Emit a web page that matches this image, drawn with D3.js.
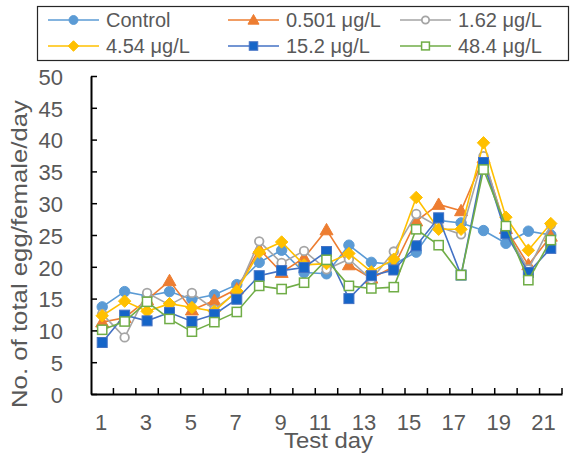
<!DOCTYPE html>
<html><head><meta charset="utf-8">
<script src="https://cdn.jsdelivr.net/npm/d3@7/dist/d3.min.js"></script>
<style>body{margin:0;background:#fff}svg{display:block}text{font-family:"Liberation Sans",Arial,sans-serif}</style>
</head><body><svg id="c" width="571" height="459"></svg>
<script>
const days = d3.range(1, 22);
const xTickLabels = [1,3,5,7,9,11,13,15,17,19,21];
const yTicks = [0,5,10,15,20,25,30,35,40,45,50];
const seriesNames = ["Control","0.501 μg/L","1.62 μg/L","4.54 μg/L","15.2 μg/L","48.4 μg/L"];
const control = [13.7,16.1,15.4,16.1,14.9,15.6,17.2,20.7,22.6,19.1,18.9,23.4,20.7,20.4,22.3,27.3,26.9,25.7,23.7,25.6,25.0];
const c0501 = [11.3,12.0,14.8,17.8,13.2,14.7,16.5,22.8,19.1,21.4,25.8,20.3,18.2,20.0,27.2,29.8,28.8,37.1,26.0,20.3,24.8];
const c162 = [12.6,8.9,15.9,14.0,15.9,13.3,16.0,24.0,20.6,22.5,19.6,21.2,18.0,22.4,28.3,26.3,25.1,37.4,25.6,19.6,26.6];
const c454 = [12.3,14.6,13.0,14.2,13.6,13.0,16.2,22.3,23.9,20.3,20.5,22.1,19.2,21.2,30.9,25.9,25.9,39.5,27.8,22.6,26.8];
const c152 = [8.1,12.4,11.5,12.8,11.4,12.5,14.9,18.6,19.4,19.9,22.4,15.0,18.6,19.5,23.3,27.7,18.7,36.4,25.2,19.1,22.9];
const c484 = [10.1,11.4,14.5,11.8,9.8,11.3,12.9,17.0,16.5,17.5,21.1,17.0,16.6,16.8,25.9,23.4,18.7,35.3,26.4,17.9,24.2];
const seriesValues = [control, c0501, c162, c454, c152, c484];

const styles = [
  {line:"#5B9BD5", shape:"circle", fill:"#5B9BD5", stroke:"#5B9BD5", size:5.2},
  {line:"#ED7D31", shape:"triangle", fill:"#ED7D31", stroke:"#ED7D31", size:6.5},
  {line:"#A5A5A5", shape:"circle", fill:"#fff", stroke:"#A5A5A5", size:4.3, sw:1.8},
  {line:"#FFC000", shape:"diamond", fill:"#FFC000", stroke:"#FFC000", size:6.2},
  {line:"#4472C4", shape:"square", fill:"#1565C8", stroke:"#4472C4", size:5},
  {line:"#70AD47", shape:"square", fill:"#fff", stroke:"#70AD47", size:4.6, sw:1.5}
];

const svg = d3.select("#c");
const L = 91, R = 562, T = 76, B = 394;
const x = d3.scaleBand().domain(days).range([L, R]).padding(0);
const xc = d => x(d) + x.bandwidth()/2;
const y = d3.scaleLinear().domain([0, 50]).range([B, T]);

function drawMarker(g, s, cx, cy, scale) {
  const k = scale || 1, r = s.size * k;
  let el;
  if (s.shape === "circle") el = g.append("circle").attr("cx", cx).attr("cy", cy).attr("r", r);
  else if (s.shape === "square") el = g.append("rect").attr("x", cx-r).attr("y", cy-r).attr("width", 2*r).attr("height", 2*r);
  else if (s.shape === "triangle") el = g.append("path").attr("d", `M${cx},${cy-r}L${cx+r},${cy+r*0.75}L${cx-r},${cy+r*0.75}Z`);
  else el = g.append("path").attr("d", `M${cx},${cy-r}L${cx+r},${cy}L${cx},${cy+r}L${cx-r},${cy}Z`);
  el.attr("fill", s.fill).attr("stroke", s.stroke).attr("stroke-width", s.sw || 1);
}

// series
const line = d3.line().x((d,i) => xc(days[i])).y(d => y(d));
seriesValues.forEach((vals, si) => {
  const s = styles[si];
  const g = svg.append("g");
  g.append("path").attr("d", line(vals)).attr("fill", "none").attr("stroke", s.line).attr("stroke-width", 1.6);
  vals.forEach((v, i) => drawMarker(g, s, xc(days[i]), y(v)));
});

// y axis
const yAxis = svg.append("g").attr("transform", `translate(${L},0)`)
  .call(d3.axisLeft(y).tickValues(yTicks).tickSizeInner(-6).tickSizeOuter(0).tickPadding(28));
yAxis.select(".domain").attr("stroke", "#000").attr("stroke-width", 2);
yAxis.selectAll(".tick line").attr("stroke", "#000").attr("stroke-width", 1.5);
yAxis.selectAll("text").attr("font-size", 22).attr("fill", "#595959").attr("dy", "0.38em")
  .attr("font-family", "Liberation Sans, Arial, sans-serif");

// x axis
const xAxis = svg.append("g").attr("transform", `translate(0,${B})`)
  .call(d3.axisBottom(x).tickValues(xTickLabels).tickSize(0).tickPadding(36));
xAxis.select(".domain").attr("stroke", "#000").attr("stroke-width", 2);
xAxis.selectAll("text").attr("font-size", 22).attr("fill", "#595959").attr("dy", "0")
  .attr("text-anchor", "end").attr("x", 5)
  .attr("font-family", "Liberation Sans, Arial, sans-serif");
// category boundary ticks
const bounds = days.map(d => x(d) + x.bandwidth());
svg.append("g").selectAll("line").data(bounds).join("line")
  .attr("x1", d => d).attr("x2", d => d).attr("y1", B).attr("y2", B - 6)
  .attr("stroke", "#000").attr("stroke-width", 1.5);

// axis titles
svg.append("text").attr("x", 328.5).attr("y", 448).attr("text-anchor", "middle")
  .attr("font-size", 22).attr("fill", "#595959")
  .attr("textLength", 89).attr("lengthAdjust", "spacingAndGlyphs").text("Test day");
svg.append("text").attr("transform", `translate(27,254) rotate(-90)`).attr("text-anchor", "middle")
  .attr("font-size", 22).attr("fill", "#595959")
  .attr("textLength", 308).attr("lengthAdjust", "spacingAndGlyphs").text("No. of total egg/female/day");

// legend
svg.append("rect").attr("x", 37.5).attr("y", 6.5).attr("width", 531).attr("height", 54)
  .attr("fill", "#fff").attr("stroke", "#262626").attr("stroke-width", 1.2);
const colX = [48, 228, 400];
const rowY = [20, 46];
seriesNames.forEach((name, i) => {
  const cx = colX[i % 3], cy = rowY[Math.floor(i / 3)];
  const s = styles[i];
  const g = svg.append("g");
  g.append("line").attr("x1", cx).attr("x2", cx + 51).attr("y1", cy).attr("y2", cy).attr("stroke", s.line).attr("stroke-width", 1.6);
  drawMarker(g, s, cx + 25.5, cy, 0.85);
  g.append("text").attr("x", cx + 58).attr("y", cy).attr("dy", "0.35em")
    .attr("font-size", 20).attr("fill", "#595959").text(name);
});
</script></body></html>
